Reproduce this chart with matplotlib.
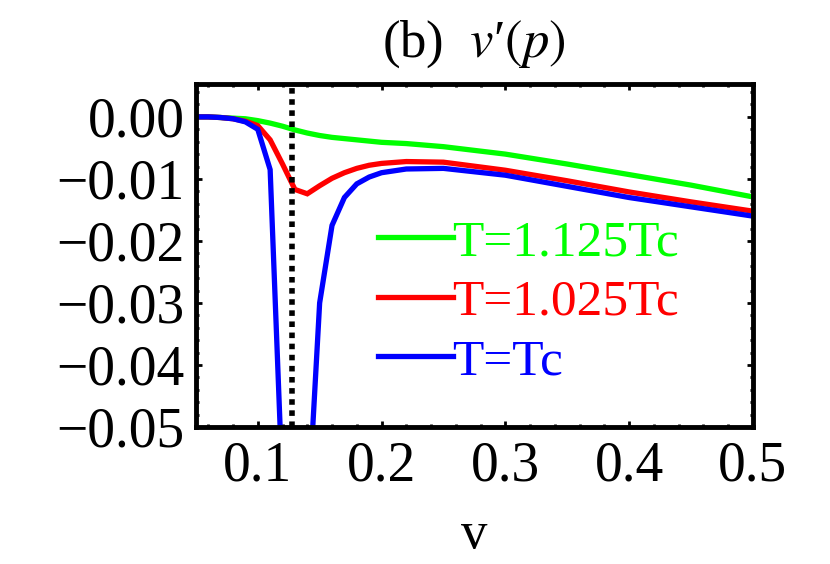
import matplotlib
matplotlib.use('Agg')
import matplotlib.pyplot as plt
import numpy as np
from matplotlib.ticker import MultipleLocator, FuncFormatter

plt.rcParams['font.family'] = ['Liberation Serif', 'DejaVu Serif']
plt.rcParams['mathtext.fontset'] = 'stix'

# sampled volumes and v'(p) for the three temperatures
v = [0.05, 0.06, 0.07, 0.08, 0.09, 0.10, 0.11, 0.12, 0.13, 0.14, 0.15, 0.16,
     0.17, 0.18, 0.19, 0.20, 0.22, 0.25, 0.30, 0.35, 0.40, 0.45, 0.50]
green_1125 = [0, 0, -0.0001, -0.0002, -0.0003, -0.0006, -0.0010, -0.0015, -0.0021,
              -0.0026, -0.0030, -0.0033, -0.0035, -0.0037, -0.0039, -0.0041, -0.0043,
              -0.0048, -0.0060, -0.0076, -0.0093, -0.0110, -0.0129]
red_1025 = [0, 0, -0.0001, -0.0003, -0.0007, -0.0014, -0.0037, -0.0076, -0.0117,
            -0.0124, -0.0111, -0.0099, -0.0090, -0.0083, -0.0078, -0.0075, -0.0072,
            -0.0073, -0.0086, -0.0103, -0.0121, -0.0137, -0.0152]
blue_tc = [0, 0, -0.0001, -0.0003, -0.0008, -0.0020, -0.0085, -0.060, np.nan,
           -0.066, -0.030, -0.0175, -0.0130, -0.0108, -0.0097, -0.0090, -0.0084,
           -0.0083, -0.0094, -0.0112, -0.0130, -0.0145, -0.0160]
v_crit = 0.128

labels = ['T=1.125Tc', 'T=1.025Tc', 'T=Tc']
colors = ['#00ff00', '#ff0000', '#0000ff']

fig = plt.figure(figsize=(8.3, 5.64), dpi=100)
ax = fig.add_axes([0.236, 0.243, 0.671, 0.608])

for ys, lab, c in zip([green_1125, red_1025, blue_tc], labels, colors):
    ax.plot(v, ys, color=c, lw=3.8, label=lab, solid_joinstyle='miter')

ax.axvline(v_crit, color='black', lw=4, linestyle=(0, (1, 1)))

ax.set_xlim(0.05, 0.5)
ax.set_ylim(-0.05, 0.0053)

ax.xaxis.set_major_locator(MultipleLocator(0.1))
ax.xaxis.set_minor_locator(MultipleLocator(0.02))
ax.yaxis.set_major_locator(MultipleLocator(0.01))
ax.yaxis.set_minor_locator(MultipleLocator(0.002))
ax.xaxis.set_major_formatter(FuncFormatter(lambda x, p: f'{x:.1f}'))
ax.yaxis.set_major_formatter(
    FuncFormatter(lambda y, p: f'{round(y, 4):.2f}'.replace('-', '\u2212') if abs(y) > 1e-9 else '0.00'))

ax.tick_params(which='both', direction='in', top=True, right=True, width=2, labelsize=40)
ax.tick_params(which='major', length=4)
ax.tick_params(which='minor', length=2)
ax.tick_params(axis='x', pad=10)
ax.tick_params(axis='y', pad=8)
for s in ax.spines.values():
    s.set_linewidth(3.5)

ax.set_title("(b)  $v$\u2032$(p)$", fontsize=38, pad=20)
ax.set_xlabel('v', fontsize=38, labelpad=13)

leg = ax.legend(loc='upper left', bbox_to_anchor=(0.327, 0.605), frameon=False,
                fontsize=37, handlelength=1.45, handletextpad=0.0, labelspacing=0.24,
                borderpad=0, borderaxespad=0, labelcolor='linecolor')

fig.savefig('out.png', dpi=100)
